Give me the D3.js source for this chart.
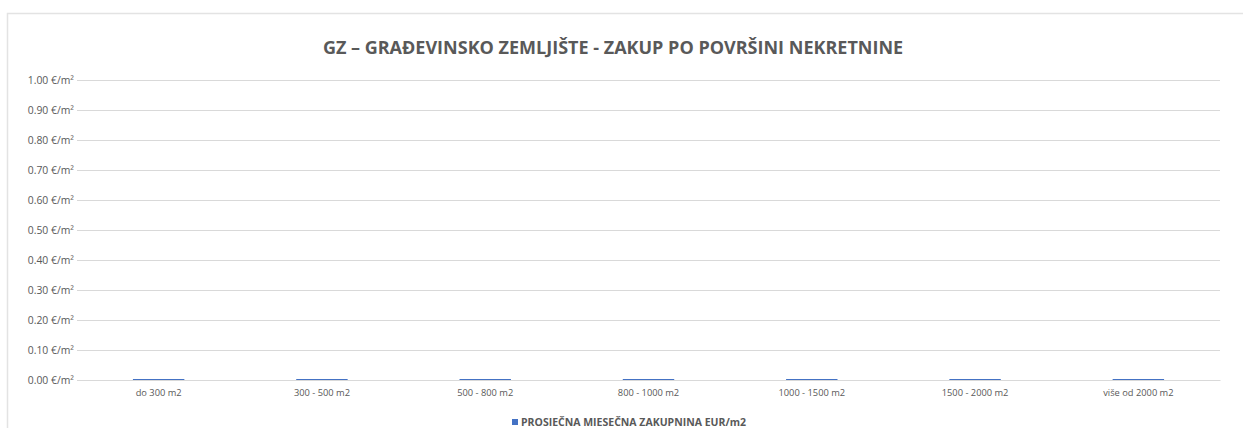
<!DOCTYPE html>
<html>
<head>
<meta charset="utf-8">
<script src="https://cdn.jsdelivr.net/npm/d3@7"></script>
<style>
  html, body { margin: 0; padding: 0; background: #fff; }
  svg { display: block; font-family: "Open Sans", "Noto Sans", sans-serif; }
</style>
</head>
<body>
<svg id="chart" width="1243" height="428"></svg>
<script>
const categories = ["do 300 m2", "300 - 500 m2", "500 - 800 m2", "800 - 1000 m2", "1000 - 1500 m2", "1500 - 2000 m2", "više od 2000 m2"];
const values = [0, 0, 0, 0, 0, 0, 0];
const yTicks = [0, 0.1, 0.2, 0.3, 0.4, 0.5, 0.6, 0.7, 0.8, 0.9, 1.0];
const seriesName = "PROSIEČNA MIESEČNA ZAKUPNINA EUR/m2";
const title = "GZ – GRAĐEVINSKO ZEMLJIŠTE - ZAKUP PO POVRŠINI NEKRETNINE";

const W = 1243, H = 428;
const margin = { left: 77, right: 23, top: 80, bottom: 48 };
const textColor = "#595959";
const gridColor = "#d9d9d9";
const barColor = "#4472c4";

const svg = d3.select("#chart");

// outer chart border
svg.append("rect")
  .attr("x", 7.5).attr("y", 13.5)
  .attr("width", 1400).attr("height", 600)
  .attr("fill", "none").attr("stroke", "#e3e3e3").attr("stroke-width", 1.5);

const x = d3.scaleBand()
  .domain(categories)
  .range([margin.left, W - margin.right])
  .paddingInner(0.685).paddingOuter(0.3425);

const y = d3.scaleLinear()
  .domain([0, 1])
  .range([H - margin.bottom, margin.top]);

// y axis with gridlines
const yAxis = d3.axisLeft(y)
  .tickValues(yTicks)
  .tickSize(-(W - margin.right - margin.left))
  .tickPadding(3)
  .tickFormat(d => d3.format(".2f")(d) + " €/m²");

const gy = svg.append("g")
  .attr("transform", `translate(${margin.left},0)`)
  .call(yAxis);
gy.select(".domain").remove();
gy.selectAll(".tick line").attr("stroke", gridColor).attr("stroke-width", 1);
gy.selectAll(".tick text")
  .attr("fill", textColor)
  .attr("font-size", "10.4px")
  .attr("font-family", "'Open Sans', sans-serif");

// x axis labels
const xAxis = d3.axisBottom(x).tickSize(0).tickPadding(9);
const gx = svg.append("g")
  .attr("transform", `translate(0,${y(0)})`)
  .call(xAxis);
gx.select(".domain").attr("stroke", gridColor);
gx.selectAll(".tick text")
  .attr("fill", textColor)
  .attr("font-size", "9.3px")
  .attr("font-family", "'Open Sans', sans-serif");

// bars (values are zero, so the bar top edge shows at baseline)
const bars = svg.append("g");
bars.selectAll("rect")
  .data(values)
  .join("rect")
  .attr("x", (d, i) => x(categories[i]))
  .attr("y", d => y(d))
  .attr("width", x.bandwidth())
  .attr("height", d => y(0) - y(d))
  .attr("fill", barColor);
bars.selectAll("line")
  .data(values)
  .join("line")
  .attr("x1", (d, i) => x(categories[i]))
  .attr("x2", (d, i) => x(categories[i]) + x.bandwidth())
  .attr("y1", d => y(d) - 0.5)
  .attr("y2", d => y(d) - 0.5)
  .attr("stroke", barColor)
  .attr("stroke-width", 1.2);

// title
svg.append("text")
  .attr("x", 613).attr("y", 54)
  .attr("text-anchor", "middle")
  .attr("fill", textColor)
  .attr("font-size", "18px")
  .attr("font-weight", "bold")
  .text(title);

// legend
const legend = svg.append("g");
legend.append("text")
  .attr("x", 521).attr("y", 426)
  .attr("fill", textColor)
  .attr("font-size", "10.5px")
  .attr("font-weight", "bold")
  .text(seriesName);
legend.append("rect")
  .attr("x", 512).attr("y", 419)
  .attr("width", 6).attr("height", 6)
  .attr("fill", barColor);
</script>
</body>
</html>
